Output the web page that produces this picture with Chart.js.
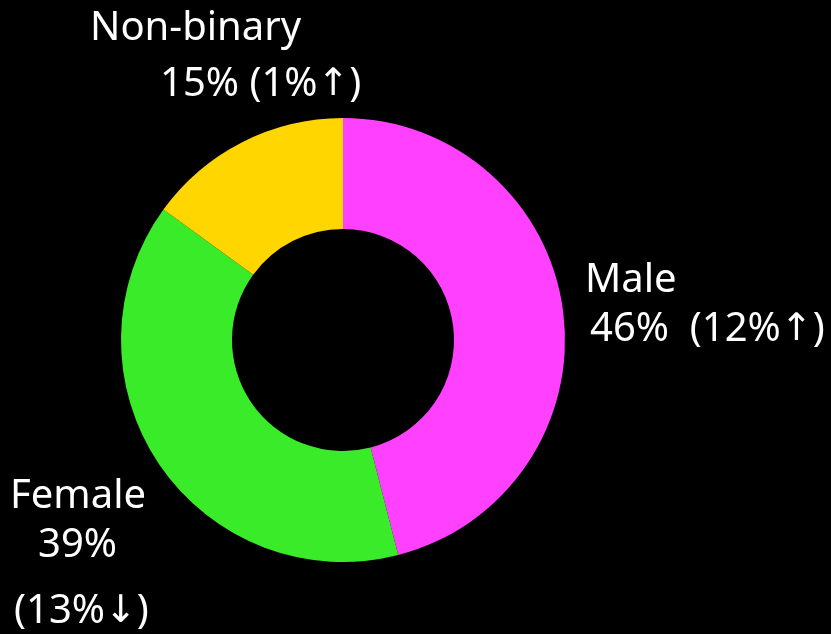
<!DOCTYPE html>
<html>
<head>
<meta charset="utf-8">
<script src="https://cdn.jsdelivr.net/npm/chart.js@4.4.1/dist/chart.umd.min.js"></script>
<style>
  html, body { margin: 0; padding: 0; background: #000; }
  #wrap { width: 831px; height: 634px; }
</style>
</head>
<body>
<div id="wrap"><canvas id="chart" width="831" height="634"></canvas></div>
<script>
// Datos del gráfico
const categories = ["Male", "Female", "Non-binary"];
const shares = [46, 39, 15];
const changes = [12, -13, 1];
const colors = ["#ff40ff", "#3aeb2a", "#ffd600"];

// Posición de cada línea de etiqueta (x izquierda, y centro)
const labelLines = [
  [["name", 585, 281], ["pct+chg2", 590, 330]],
  [["name", 10, 497], ["pct", 38, 546], ["chg", 14, 612]],
  [["name", 90, 29], ["pct+chg", 160, 85]]
];

const pctText = (i) => shares[i] + "%";
const chgText = (i) => "(" + Math.abs(changes[i]) + "%" + (changes[i] >= 0 ? "↑" : "↓") + ")";

const textFont = "40px 'Noto Sans', sans-serif";
const arrowFont = "38px 'DejaVu Sans', sans-serif";

// Dibuja el texto, con las flechas en otra fuente (más anchas)
function drawText(ctx, t, x, y) {
  for (const ch of t) {
    ctx.font = (ch === "↑" || ch === "↓") ? arrowFont : textFont;
    ctx.fillText(ch, x, y);
    x += ctx.measureText(ch).width;
  }
}

const labelPlugin = {
  id: "sliceLabels",
  afterDraw(chart) {
    const ctx = chart.ctx;
    ctx.save();
    ctx.fillStyle = "#ffffff";
    ctx.textBaseline = "middle";
    ctx.textAlign = "left";
    labelLines.forEach((lines, i) => {
      lines.forEach(([kind, x, y]) => {
        let t;
        if (kind === "name") t = categories[i];
        else if (kind === "pct") t = pctText(i);
        else if (kind === "chg") t = chgText(i);
        else if (kind === "pct+chg2") t = pctText(i) + "  " + chgText(i);
        else t = pctText(i) + " " + chgText(i);
        drawText(ctx, t, x, y);
      });
    });
    ctx.restore();
  }
};

new Chart(document.getElementById("chart").getContext("2d"), {
  type: "doughnut",
  data: {
    labels: categories,
    datasets: [{
      data: shares,
      backgroundColor: colors,
      borderWidth: 0
    }]
  },
  options: {
    responsive: false,
    animation: false,
    cutout: "50%",
    layout: { padding: { left: 121, right: 266, top: 118, bottom: 72 } },
    plugins: {
      legend: { display: false },
      tooltip: { enabled: false }
    }
  },
  plugins: [labelPlugin]
});
</script>
</body>
</html>
